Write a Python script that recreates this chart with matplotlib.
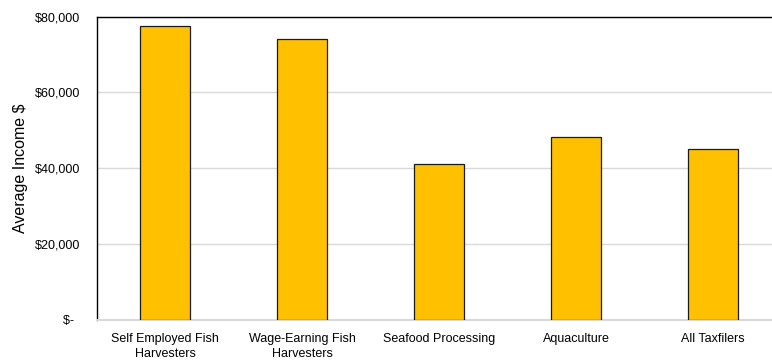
import matplotlib
matplotlib.use("Agg")
import matplotlib.pyplot as plt
from matplotlib.ticker import FuncFormatter

plt.rcParams['font.family'] = ['Liberation Sans', 'DejaVu Sans']

categories = ["Self Employed Fish\nHarvesters", "Wage-Earning Fish\nHarvesters",
              "Seafood Processing", "Aquaculture", "All Taxfilers"]
avg_income = [77600, 74100, 41200, 48200, 45100]
y_ticks = [0, 20000, 40000, 60000, 80000]

fig = plt.figure(figsize=(7.72, 3.6), dpi=100)
ax = fig.add_axes([0.125, 0.1125, 0.8873, 0.8408])

x = list(range(len(categories)))
ax.bar(x, avg_income, width=0.36, color="#FFC000", edgecolor="#1a1a1a",
       linewidth=0.9, zorder=3)

ax.set_xlim(-0.5, len(categories) - 0.5)
ax.set_ylim(0, 80000)
ax.set_yticks(y_ticks)
ax.yaxis.set_major_formatter(FuncFormatter(
    lambda v, _: "$-  " if v == 0 else f"${v:,.0f}"))
ax.set_xticks(x)
ax.set_xticklabels(categories, fontsize=9, linespacing=1.25)
ax.tick_params(axis='y', labelsize=9, length=0, pad=11.5)
ax.tick_params(axis='x', length=0, pad=10)

ax.grid(axis='y', color="#d9d9d9", linewidth=1.0, zorder=0)
ax.set_axisbelow(True)

ax.spines['top'].set_color("#000000")
ax.spines['top'].set_linewidth(1.0)
ax.spines['left'].set_color("#000000")
ax.spines['left'].set_linewidth(1.0)
ax.spines['bottom'].set_color("#d9d9d9")
ax.spines['bottom'].set_linewidth(1.5)
ax.spines['right'].set_visible(False)

ax.set_ylabel("Average Income $", fontsize=11.5, labelpad=5.5)

fig.savefig("out.png", dpi=100)
